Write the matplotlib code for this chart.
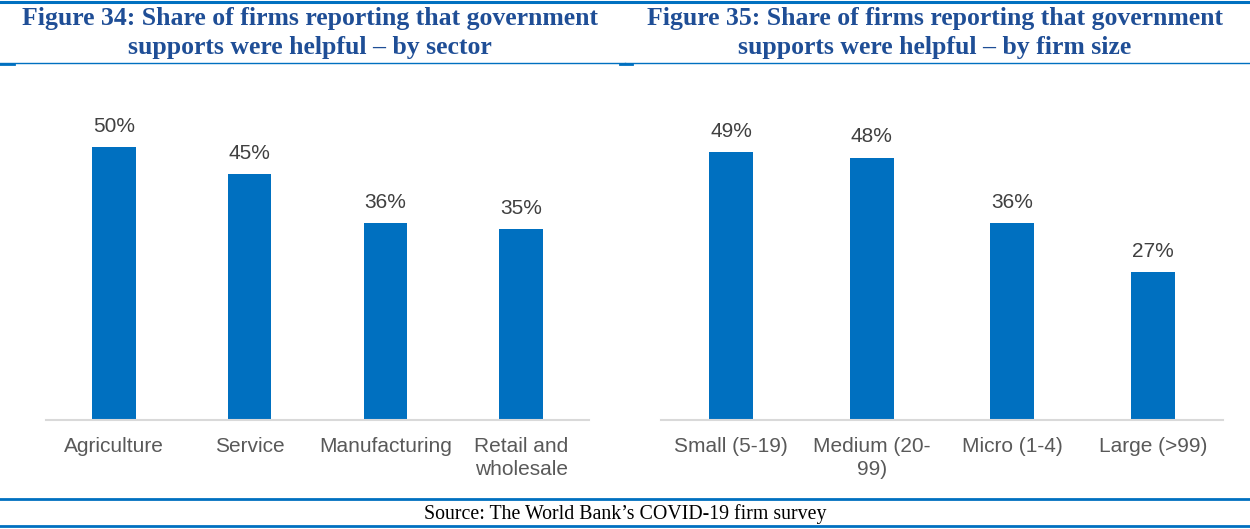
import matplotlib.pyplot as plt
from matplotlib.lines import Line2D

# data
sectors = ['Agriculture', 'Service', 'Manufacturing', 'Retail and\nwholesale']
sector_share = [50, 45, 36, 35]

sizes = ['Small (5-19)', 'Medium (20-\n99)', 'Micro (1-4)', 'Large (>99)']
size_share = [49, 48, 36, 27]

title_left = 'Figure 34: Share of firms reporting that government\nsupports were helpful \u2013 by sector'
title_right = 'Figure 35: Share of firms reporting that government\nsupports were helpful \u2013 by firm size'
source = 'Source: The World Bank\u2019s COVID-19 firm survey'

W, H = 1250, 529
BLUE = '#0070C0'
TITLE_BLUE = '#1F4E96'

fig = plt.figure(figsize=(W / 100, H / 100), dpi=100)
plt.rcParams['font.family'] = ['Liberation Sans', 'DejaVu Sans']


def px_axes(x0, x1, base_y, top_y):
    return fig.add_axes([x0 / W, (H - base_y) / H, (x1 - x0) / W, (base_y - top_y) / H])


def bar_panel(ax, cats, vals, width):
    x = range(len(cats))
    ax.bar(x, vals, width=width, color=BLUE)
    for xi, v in zip(x, vals):
        ax.annotate(f'{v}%', (xi, v), xytext=(0, 8), textcoords='offset points',
                    ha='center', va='bottom', fontsize=15, color='#404040')
    ax.set_xlim(-0.5, len(cats) - 0.5)
    ax.set_ylim(0, 60)
    ax.set_xticks(list(x))
    ax.set_xticklabels(cats, fontsize=15, color='#595959', linespacing=1.3)
    ax.tick_params(axis='x', length=0, pad=12)
    ax.set_yticks([])
    for s in ['top', 'right', 'left']:
        ax.spines[s].set_visible(False)
    ax.spines['bottom'].set_color('#D9D9D9')
    ax.spines['bottom'].set_linewidth(1.5)


ax1 = px_axes(46, 589, 420, 92)
bar_panel(ax1, sectors, sector_share, 0.32)
ax2 = px_axes(661, 1223, 420, 92)
bar_panel(ax2, sizes, size_share, 0.31)

# titles
fig.text(310 / W, 1 - 33 / H, title_left, ha='center', va='center', fontsize=18.5,
         fontweight='bold', color=TITLE_BLUE, family='Liberation Serif', linespacing=1.35)
fig.text(935 / W, 1 - 33 / H, title_right, ha='center', va='center', fontsize=18.5,
         fontweight='bold', color=TITLE_BLUE, family='Liberation Serif', linespacing=1.35)

# blue rules
def hline(x0, x1, y, lw):
    fig.add_artist(Line2D([x0 / W, x1 / W], [1 - y / H, 1 - y / H], color=BLUE, lw=lw))

hline(0, W, 2, 2.2)
hline(0, 625, 63, 1.0)
hline(0, 14, 64, 2.0)
hline(625, W, 63, 1.0)
hline(620, 632, 64, 2.0)
hline(0, W, 499, 2.0)
hline(0, W, 526, 2.0)

fig.text(625 / W, 1 - 514 / H, source, ha='center', va='center', fontsize=14.3,
         family='Liberation Serif', color='black')

fig.savefig('out.png', dpi=100)
